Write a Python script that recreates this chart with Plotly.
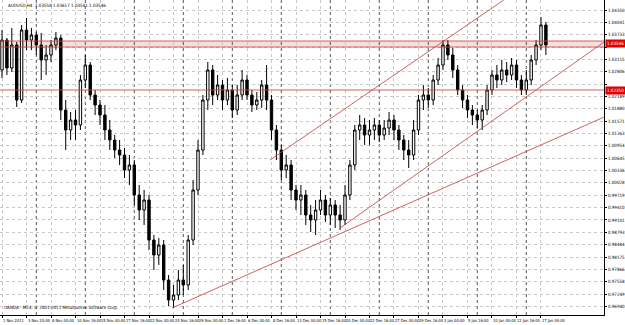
import plotly.graph_objects as go

title_text = "AUDUSD,H4  1.03558 1.03617 1.03541 1.03546"
copyright_text = "OANDA - MT4, \u00a9 2001-2011 MetaQuotes Software Corp."

time_labels = ["1 Nov 2011", "3 Nov 20:00", "8 Nov 00:00", "10 Nov 16:00", "15 Nov 00:00",
               "17 Nov 16:00", "22 Nov 00:00", "24 Nov 16:00", "29 Nov 00:00", "1 Dec 16:00",
               "6 Dec 00:00", "8 Dec 16:00", "13 Dec 00:00", "15 Dec 16:00", "20 Dec 00:00",
               "22 Dec 16:00", "27 Dec 00:00", "29 Dec 16:00", "3 Jan 00:00", "5 Jan 16:00",
               "10 Jan 00:00", "12 Jan 16:00", "17 Jan 00:00"]
label_step = 5          # candles between time labels
week_separators = [7, 17, 27, 37, 47, 57, 67, 77, 87, 97, 107]

open_ = [1.0285, 1.0360, 1.0290, 1.03475, 1.0210, 1.0385, 1.0360, 1.03725, 1.03475, 1.0310,
         1.03225, 1.03475, 1.0365, 1.0185, 1.0135, 1.0160, 1.01475, 1.0260, 1.02975, 1.02225,
         1.01975, 1.01725, 1.0135, 1.0110, 1.0085, 1.00725, 1.0035, 1.00475, 0.99725, 0.9935,
         0.9960, 0.9860, 0.98225, 0.98475, 0.9760, 0.9710, 0.97225, 0.9760, 0.97475, 0.9860,
         0.9985, 1.0085, 1.0210, 1.0285, 1.02225, 1.02475, 1.0210, 1.0235, 1.0185, 1.02225,
         1.0260, 1.02225, 1.01975, 1.0210, 1.02475, 1.0210, 1.0135, 1.0085, 1.0035, 1.00475,
         0.9985, 0.9960, 0.99725, 0.99225, 0.9910, 0.9935, 0.9960, 0.99225, 0.99475, 0.99225,
         0.9910, 0.99725, 1.00475, 1.0135, 1.01475, 1.01225, 1.0135, 1.01475, 1.01225, 1.0140,
         1.0160, 1.0135, 1.0110, 1.0085, 1.00725, 1.0135, 1.0210, 1.02225, 1.0210, 1.0260,
         1.02975, 1.03475, 1.03225, 1.0285, 1.0235, 1.0210, 1.0185, 1.01725, 1.0160, 1.0185,
         1.0235, 1.02725, 1.0260, 1.0285, 1.02725, 1.02975, 1.0260, 1.0235, 1.0260, 1.0310,
         1.03475, 1.03975]
high = [1.0385, 1.0365, 1.0390, 1.0355, 1.03975, 1.0415, 1.0390, 1.0380, 1.03775, 1.03475,
        1.0360, 1.0380, 1.03725, 1.0210, 1.0180, 1.0185, 1.02725, 1.03225, 1.0305, 1.0235,
        1.0210, 1.01975, 1.0160, 1.01225, 1.0110, 1.0090, 1.00725, 1.0060, 0.99975, 0.9985,
        0.99725, 0.98725, 0.9865, 0.9860, 0.97725, 0.97475, 0.9785, 0.97975, 0.98725, 1.0010,
        1.0110, 1.02225, 1.0305, 1.02975, 1.02725, 1.0260, 1.0265, 1.02475, 1.02475, 1.0285,
        1.02725, 1.0235, 1.0230, 1.0260, 1.02975, 1.02225, 1.01475, 1.00975, 1.00725, 1.0060,
        0.99975, 0.99975, 0.9985, 0.99475, 0.9960, 0.9985, 0.99725, 0.9965, 0.9960, 0.99475,
        0.99975, 1.0060, 1.01475, 1.01725, 1.0165, 1.0160, 1.0165, 1.0160, 1.0160, 1.0180,
        1.01725, 1.01475, 1.01225, 1.0110, 1.0160, 1.02225, 1.02475, 1.0240, 1.02725, 1.0315,
        1.0360, 1.0360, 1.0340, 1.02975, 1.02475, 1.02225, 1.01975, 1.0185, 1.01975, 1.02475,
        1.0285, 1.02975, 1.0310, 1.0305, 1.0315, 1.0310, 1.02725, 1.0285, 1.03225, 1.0360,
        1.04175, 1.0405]
low = [1.0265, 1.02725, 1.0280, 1.01925, 1.02025, 1.0335, 1.0335, 1.03225, 1.0260, 1.02725,
       1.0305, 1.0335, 1.0160, 1.0085, 1.0110, 1.0110, 1.0135, 1.0240, 1.0210, 1.01725,
       1.01475, 1.0110, 1.0085, 1.0065, 1.00475, 1.0015, 0.99975, 0.99475, 0.9910, 0.98975,
       0.9835, 0.9785, 0.97975, 0.9735, 0.9695, 0.9690, 0.9710, 0.97225, 0.9735, 0.98475,
       0.99725, 1.00725, 1.0185, 1.01975, 1.0210, 1.0185, 1.01975, 1.0165, 1.01725, 1.0210,
       1.0210, 1.0180, 1.0185, 1.0190, 1.0185, 1.0110, 1.0060, 1.0010, 1.0015, 0.9960,
       0.9935, 0.99225, 0.98975, 0.9880, 0.98725, 0.99225, 0.9905, 0.98975, 0.9890, 0.9885,
       0.98975, 0.9960, 1.0035, 1.0110, 1.00975, 1.00975, 1.0110, 1.0105, 1.0110, 1.01225,
       1.0110, 1.0085, 1.0060, 1.0040, 1.0060, 1.01225, 1.0185, 1.0190, 1.01975, 1.02475,
       1.0285, 1.0310, 1.0265, 1.02225, 1.0190, 1.0165, 1.01475, 1.0140, 1.0135, 1.01725,
       1.02225, 1.0240, 1.02475, 1.0255, 1.0260, 1.0240, 1.02225, 1.02225, 1.02475, 1.02975,
       1.0335, 1.03225]
close = [1.0360, 1.0290, 1.03475, 1.0210, 1.0385, 1.0360, 1.03725, 1.03475, 1.0310, 1.03225,
         1.03475, 1.0365, 1.0185, 1.0135, 1.0160, 1.01475, 1.0260, 1.02975, 1.02225, 1.01975,
         1.01725, 1.0135, 1.0110, 1.0085, 1.00725, 1.0035, 1.00475, 0.99725, 0.9935, 0.9960,
         0.9860, 0.98225, 0.98475, 0.9760, 0.9710, 0.97225, 0.9760, 0.97475, 0.9860, 0.9985,
         1.0085, 1.0210, 1.0285, 1.02225, 1.02475, 1.0210, 1.0235, 1.0185, 1.02225, 1.0260,
         1.02225, 1.01975, 1.0210, 1.02475, 1.0210, 1.0135, 1.0085, 1.0035, 1.00475, 0.9985,
         0.9960, 0.99725, 0.99225, 0.9910, 0.9935, 0.9960, 0.99225, 0.99475, 0.99225, 0.9910,
         0.99725, 1.00475, 1.0135, 1.01475, 1.01225, 1.0135, 1.01475, 1.01225, 1.0140, 1.0160,
         1.0135, 1.0110, 1.0085, 1.00725, 1.0135, 1.0210, 1.02225, 1.0210, 1.0260, 1.02975,
         1.03475, 1.03225, 1.0285, 1.0235, 1.0210, 1.0185, 1.01725, 1.0160, 1.0185, 1.0235,
         1.02725, 1.0260, 1.0285, 1.02725, 1.02975, 1.0260, 1.0235, 1.0260, 1.0310, 1.03475,
         1.03975, 1.03475]

price_ticks = [1.04350, 1.04041, 1.03733, 1.03424, 1.03115, 1.02806, 1.02498, 1.02189, 1.01880,
               1.01571, 1.01263, 1.00954, 1.00645, 1.00336, 1.00028, 0.99719, 0.99410, 0.99101,
               0.98793, 0.98484, 0.98175, 0.97866, 0.97558, 0.97249, 0.96940]

band_top, band_bottom = 1.03575, 1.03425
support_line = 1.0235
price_boxes = [(1.03525, "1.03546"), (1.0235, "1.02350")]

# trend lines: (x0, p0, x1, p1) in candle index / price
trend_lines = [(34.7, 0.9690, 122.9, 1.01675),
               (69.0, 0.9890, 122.9, 1.0355),
               (54.7, 1.0060, 102.4, 1.0460)]

x_range = [-0.41, 122.86]
y_range = [0.96725, 1.0460]

n = len(close)
xs = list(range(n))
red = "rgba(200,70,70,0.85)"
font_family = "DejaVu Sans Condensed, Liberation Sans Narrow, Liberation Sans"

fig = go.Figure()
fig.add_trace(go.Candlestick(
    x=xs, open=open_, high=high, low=low, close=close,
    increasing=dict(line=dict(color="black", width=1), fillcolor="white"),
    decreasing=dict(line=dict(color="black", width=1), fillcolor="black"),
    whiskerwidth=0, showlegend=False, hoverinfo="skip"))

for (x0, p0, x1, p1) in trend_lines:
    fig.add_trace(go.Scatter(x=[x0, x1], y=[p0, p1], mode="lines",
                             line=dict(color=red, width=1), showlegend=False,
                             hoverinfo="skip", cliponaxis=True))

shapes = []
shapes.append(dict(type="rect", xref="paper", x0=0, x1=1, yref="y", y0=band_bottom, y1=band_top,
                   fillcolor="rgba(230,160,160,0.35)", line=dict(width=0), layer="below"))
for p in (band_top, band_bottom, support_line):
    shapes.append(dict(type="line", xref="paper", x0=0, x1=1, yref="y", y0=p, y1=p,
                       line=dict(color=red, width=1)))
for s in week_separators:
    shapes.append(dict(type="line", xref="x", x0=s, x1=s, yref="paper", y0=0, y1=1,
                       line=dict(color="#555555", width=1, dash="dot"), layer="below"))

annotations = []
for k, lab in enumerate(time_labels):
    annotations.append(dict(x=k * label_step, xref="x", y=0, yref="paper", yanchor="top",
                            xanchor="left", text=lab, showarrow=False, yshift=-1, xshift=-1,
                            font=dict(size=4, color="black", family=font_family)))
for p, t in price_boxes:
    annotations.append(dict(x=1, xref="paper", y=p, yref="y", xanchor="left", yanchor="middle",
                            text=t, showarrow=False, bgcolor="#e00000", borderpad=1, xshift=1,
                            font=dict(size=4.5, color="white", family=font_family)))
annotations.append(dict(x=0, xref="paper", y=1, yref="paper", xanchor="left", yanchor="top",
                        text=title_text, showarrow=False, xshift=6, yshift=-1,
                        font=dict(size=4.5, color="black", family=font_family)))
annotations.append(dict(x=0, xref="paper", y=0.025, yref="paper", xanchor="left", yanchor="middle",
                        text=copyright_text, showarrow=False, xshift=2,
                        font=dict(size=4.5, color="black", family=font_family)))

# hide axis labels hidden behind the price boxes (as in the terminal)
box_prices = [p for p, _ in price_boxes]
tick_text = ["" if any(abs(p - b) < 0.0016 for b in box_prices) else f"{p:.5f}" for p in price_ticks]

fig.update_layout(
    width=625, height=325,
    margin=dict(l=0, r=21, t=0, b=10),
    paper_bgcolor="white", plot_bgcolor="white",
    shapes=shapes, annotations=annotations,
    xaxis=dict(range=x_range, rangeslider=dict(visible=False), showgrid=True,
               tickvals=[k * label_step for k in range(len(time_labels))],
               showticklabels=False, gridcolor="#c8c8c8", griddash="dot", gridwidth=1,
               showline=True, linecolor="black", linewidth=1, zeroline=False,
               ticks="outside", ticklen=2, tickcolor="black"),
    yaxis=dict(range=y_range, side="right", tickvals=price_ticks, ticktext=tick_text,
               tickfont=dict(size=4.5, color="black", family=font_family),
               showgrid=True, gridcolor="#c8c8c8", griddash="dot", gridwidth=1,
               showline=True, linecolor="black", linewidth=1, zeroline=False,
               ticks="outside", ticklen=2, tickcolor="black"),
)

fig.write_html("out.html")
